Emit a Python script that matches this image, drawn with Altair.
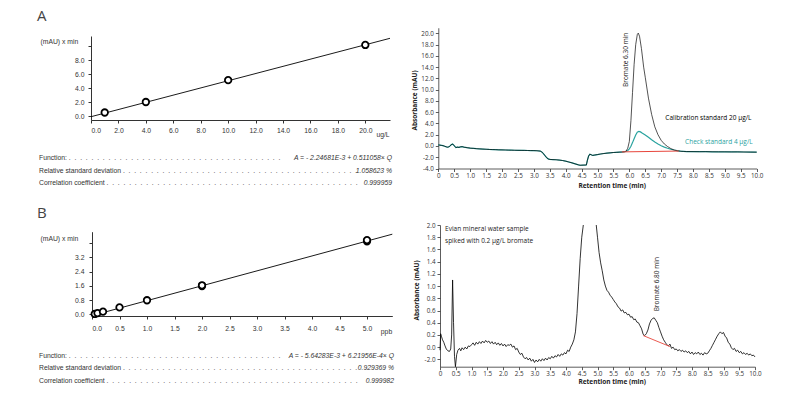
import altair as alt
import pandas as pd

# ====================== DATA ======================
# Panel A - calibration (area vs concentration, ug/L)
calA_conc = [1.0, 4.0, 10.0, 20.0]
calA_area = [0.50, 2.00, 5.12, 10.15]
calA_fit_conc = [0.0, 21.8]
calA_fit_area = [-0.10, 11.10]

# Panel B - calibration (area vs concentration, ppb)
calB_conc = [0.05, 0.1, 0.2, 0.5, 1.0, 2.0, 2.0, 5.0, 5.0]
calB_area = [0.02, 0.07, 0.15, 0.39, 0.79, 1.59, 1.63, 4.10, 4.17]
calB_fit_conc = [0.0, 5.46]
calB_fit_area = [-0.07, 4.50]

# Panel A - chromatogram, common baseline before the peak
chromA_pre_t = [0.00, 0.05, 0.10, 0.15, 0.20, 0.25, 0.30, 0.35, 0.40, 0.45,
                0.50, 0.55, 0.60, 0.65, 0.70, 0.75, 0.80,
                0.90, 1.00, 1.10, 1.20, 1.30, 1.40, 1.50, 1.60, 1.70, 1.80,
                1.90, 2.00, 2.10, 2.20, 2.30, 2.40, 2.50, 2.60, 2.70, 2.80,
                2.90, 3.00, 3.10, 3.20,
                3.25, 3.30, 3.35, 3.40, 3.45, 3.50,
                3.60, 3.70, 3.80, 3.90, 4.00, 4.10, 4.20, 4.30, 4.40,
                4.45, 4.55, 4.65, 4.68, 4.72, 4.76, 4.80, 4.85, 4.90,
                5.00, 5.10, 5.20, 5.30, 5.40, 5.50, 5.60, 5.70, 5.80, 5.85]
chromA_pre_v = [0.18, 0.15, 0.10, 0.05, -0.05, -0.15, -0.22, -0.10, 0.20, 0.35,
                0.05, -0.28, -0.20, -0.25, -0.15, -0.12, -0.20,
                -0.30, -0.38, -0.42, -0.48, -0.52, -0.55, -0.58, -0.62, -0.63, -0.66,
                -0.68, -0.70, -0.71, -0.73, -0.75, -0.76, -0.77, -0.78, -0.79, -0.80,
                -0.81, -0.82, -0.85, -0.90,
                -1.05, -1.35, -1.70, -2.05, -2.30, -2.38,
                -2.42, -2.45, -2.50, -2.58, -2.70, -2.85, -3.00, -3.18, -3.35,
                -3.42, -3.40, -3.38, -2.60, -1.80, -1.45, -1.55, -1.68, -1.62,
                -1.52, -1.42, -1.34, -1.27, -1.21, -1.16, -1.12, -1.09, -1.06, -1.03]
# calibration standard 20 ug/L peak
chromA_cal_t = [5.90, 5.95, 6.00, 6.05, 6.10, 6.15, 6.20, 6.25, 6.28, 6.32,
                6.38, 6.45, 6.50, 6.60, 6.70, 6.80, 6.90, 7.00, 7.10, 7.20,
                7.30, 7.40, 7.50, 7.60, 7.70]
chromA_cal_v = [-0.90, -0.40, 0.80, 4.50, 9.50, 14.50, 18.00, 19.80, 20.05, 19.50,
                17.30, 14.00, 12.20, 8.50, 5.60, 3.40, 2.00, 1.00, 0.35, -0.10,
                -0.45, -0.70, -0.85, -0.93, -0.97]
# check standard 4 ug/L peak
chromA_chk_t = [5.90, 5.95, 6.00, 6.05, 6.10, 6.15, 6.20, 6.25, 6.30, 6.35,
                6.40, 6.50, 6.60, 6.70, 6.80, 6.90, 7.00, 7.10, 7.20, 7.30,
                7.40, 7.50, 7.60, 7.70]
chromA_chk_v = [-0.95, -0.80, -0.50, -0.05, 0.60, 1.30, 1.95, 2.45, 2.60, 2.50,
                2.30, 1.95, 1.55, 1.10, 0.70, 0.35, 0.05, -0.20, -0.40, -0.58,
                -0.72, -0.82, -0.90, -0.95]
# common baseline after the peak
chromA_post_t = [7.80, 8.00, 8.20, 8.40, 8.60, 8.80, 9.00, 9.20, 9.40, 9.60, 9.80, 10.00]
chromA_post_v = [-0.99, -1.00, -1.02, -1.01, -1.03, -1.04, -1.04, -1.06, -1.05, -1.07, -1.08, -1.10]
# integration baseline
chromA_base_t = [5.77, 7.55]
chromA_base_v = [-1.05, -0.90]

# Panel B - chromatogram (two visible pieces; the big peak leaves the frame)
chromB_t1 = [0.00, 0.02, 0.05, 0.08, 0.12, 0.16, 0.20, 0.25, 0.30, 0.34,
             0.37, 0.40, 0.43, 0.46, 0.49, 0.53, 0.57, 0.62, 0.66, 0.70,
             0.75, 0.80, 0.85, 0.90, 0.95, 1.00, 1.05, 1.10, 1.15, 1.20,
             1.25, 1.30, 1.35, 1.40, 1.45, 1.50, 1.55, 1.60, 1.65, 1.70,
             1.75, 1.80, 1.85, 1.90, 1.95, 2.00, 2.05, 2.10, 2.15, 2.20,
             2.25, 2.30, 2.35, 2.40, 2.45, 2.50, 2.55, 2.60, 2.65, 2.70,
             2.75, 2.80, 2.85, 2.90, 2.95, 3.00, 3.05, 3.10, 3.15, 3.20,
             3.25, 3.30, 3.35, 3.40, 3.45, 3.50, 3.55, 3.60, 3.65, 3.70,
             3.75, 3.80, 3.85, 3.90, 3.95, 4.00, 4.05, 4.10, 4.15, 4.20,
             4.25, 4.30, 4.35, 4.40, 4.45, 4.50, 4.55]
chromB_v1 = [-0.05, 0.22, 0.17, 0.12, 0.08, 0.02, -0.03, -0.06, -0.07, -0.03,
             0.20, 1.10, 0.40, -0.15, -0.32, -0.12, -0.05, -0.02, -0.06, -0.01,
             -0.04, 0.00, -0.03, 0.02, 0.01, 0.04, 0.07, 0.03, 0.08, 0.05,
             0.09, 0.06, 0.10, 0.07, 0.11, 0.08, 0.10, 0.06, 0.09, 0.05,
             0.08, 0.04, 0.07, 0.03, 0.06, 0.02, 0.05, 0.01, 0.04, 0.03,
             0.05, 0.00, 0.02, -0.04, -0.02, -0.08, -0.12, -0.10, -0.16, -0.19,
             -0.17, -0.21, -0.18, -0.23, -0.20, -0.25, -0.21, -0.24, -0.20, -0.23,
             -0.19, -0.22, -0.18, -0.21, -0.17, -0.19, -0.15, -0.18, -0.14, -0.16,
             -0.12, -0.15, -0.11, -0.13, -0.09, -0.11, -0.05, -0.07, 0.00, 0.05,
             0.12, 0.25, 0.55, 1.00, 1.45, 1.80, 2.00]
chromB_t2 = [4.96,
             5.00, 5.05, 5.10, 5.15, 5.20, 5.25, 5.30, 5.35, 5.40, 5.45,
             5.50, 5.55, 5.60, 5.65, 5.70, 5.75, 5.80, 5.85, 5.90, 5.95,
             6.00, 6.05, 6.10, 6.15, 6.20, 6.25, 6.30, 6.35, 6.40, 6.45,
             6.50, 6.55, 6.60, 6.65, 6.70, 6.75, 6.80, 6.85, 6.90, 6.95,
             7.00, 7.05, 7.10, 7.15, 7.20, 7.25, 7.30, 7.35, 7.40, 7.45,
             7.50, 7.55, 7.60, 7.65, 7.70, 7.75, 7.80, 7.85, 7.90, 7.95,
             8.00, 8.05, 8.10, 8.15, 8.20, 8.25, 8.30, 8.35, 8.40, 8.45,
             8.50, 8.55, 8.60, 8.65, 8.70, 8.75, 8.80, 8.85, 8.90, 8.95,
             9.00, 9.05, 9.10, 9.15, 9.20, 9.25, 9.30, 9.35, 9.40, 9.45,
             9.50, 9.55, 9.60, 9.65, 9.70, 9.75, 9.80, 9.85, 9.90, 9.95,
             10.00]
chromB_v2 = [2.00,
             1.80, 1.55, 1.38, 1.25, 1.10, 1.00, 0.93, 0.90, 0.85, 0.82,
             0.78, 0.74, 0.71, 0.66, 0.64, 0.59, 0.61, 0.56, 0.57, 0.53,
             0.54, 0.49, 0.50, 0.45, 0.46, 0.41, 0.40, 0.35, 0.30, 0.21,
             0.19, 0.22, 0.28, 0.38, 0.44, 0.47, 0.48, 0.44, 0.40, 0.32,
             0.25, 0.18, 0.12, 0.08, 0.04, 0.02, 0.05, -0.02, 0.00, -0.04,
             -0.03, -0.06, -0.04, -0.07, -0.05, -0.08, -0.06, -0.09, -0.07, -0.11,
             -0.08, -0.12, -0.09, -0.11, -0.08, -0.12, -0.10, -0.13, -0.09, -0.11,
             -0.10, -0.06, -0.02, 0.03, 0.08, 0.13, 0.18, 0.22, 0.25, 0.22,
             0.24, 0.18, 0.15, 0.08, 0.05, -0.01, -0.04, -0.02, -0.07, -0.05,
             -0.09, -0.07, -0.11, -0.09, -0.12, -0.10, -0.13, -0.11, -0.14, -0.13,
             -0.16]
chromB_base_t = [6.45, 7.30]
chromB_base_v = [0.19, 0.01]

# Text
row_labels = ["Function:", "Relative standard deviation", "Correlation coefficient"]
rowA_values = ["A = - 2.24681E-3 + 0.511058× Q", "1.058623 %", "0.999959"]
rowB_values = ["A = - 5.64283E-3 + 6.21956E-4× Q", "0.929369 %", "0.999982"]

# ====================== STYLE / LAYOUT ======================
W, H = 800, 397
CAL_FONT = "Liberation Sans"
CHR_FONT = "Open Sans"
INK = "#222222"
GREY = "#333333"
TEAL = "#2aa39f"
RED = "#e8463c"
CAL_FS = 6.8


def cal_x(domain, rng, axis_y, values, title, title_x, title_y, pad):
    return alt.X("conc:Q",
                 scale=alt.Scale(domain=domain, range=rng, nice=False, zero=False),
                 axis=alt.Axis(orient="bottom", offset=axis_y - H, values=values, format=".1f",
                               title=title, titleX=title_x, titleY=title_y,
                               titleAlign="center", titleBaseline="middle",
                               titleFont=CAL_FONT, titleFontSize=CAL_FS, titleFontWeight="normal",
                               titleColor=GREY, labelFont=CAL_FONT, labelFontSize=CAL_FS,
                               labelColor=GREY, labelPadding=pad, tickSize=3, tickColor=GREY,
                               domainColor=GREY, grid=False, labelOverlap=False))


def cal_y(domain, rng, axis_x, values, hide_above, title_x, title_y, pad):
    return alt.Y("area:Q",
                 scale=alt.Scale(domain=domain, range=rng, nice=False, zero=False),
                 axis=alt.Axis(orient="left", offset=-axis_x, values=values,
                               labelExpr=f"datum.value > {hide_above} ? '' : format(datum.value, '.1f')",
                               title="(mAU) x min", titleAngle=0, titleX=title_x, titleY=title_y,
                               titleAlign="left", titleBaseline="middle",
                               titleFont=CAL_FONT, titleFontSize=CAL_FS, titleFontWeight="normal",
                               titleColor=GREY, labelFont=CAL_FONT, labelFontSize=CAL_FS,
                               labelColor=GREY, labelPadding=pad, tickSize=3, tickColor=GREY,
                               domainColor=GREY, grid=False))


def chr_x(rng, axis_y, title_y):
    return alt.X("t:Q",
                 scale=alt.Scale(domain=[0, 10], range=rng, nice=False, zero=False),
                 axis=alt.Axis(orient="bottom", offset=axis_y - H,
                               values=[i * 0.5 for i in range(21)],
                               labelExpr="datum.value == 0 ? '0' : format(datum.value, '.1f')",
                               labelFlush=False, labelOverlap=False,
                               title="Retention time (min)", titleX=611.7, titleY=title_y,
                               titleAlign="center", titleBaseline="middle",
                               titleFont=CHR_FONT, titleFontSize=6.5, titleFontWeight="bold",
                               titleColor=INK, labelFont=CHR_FONT, labelFontSize=6.3,
                               labelColor=GREY, labelPadding=1, tickSize=3, tickColor=GREY,
                               domainColor=GREY, domainWidth=0.8, tickWidth=0.8, grid=False))


def chr_y(domain, rng, axis_x, values, label_expr, title_x, title_y):
    return alt.Y("v:Q",
                 scale=alt.Scale(domain=domain, range=rng, nice=False, zero=False),
                 axis=alt.Axis(orient="left", offset=-axis_x, values=values, labelExpr=label_expr,
                               labelOverlap=False,
                               title="Absorbance (mAU)", titleAngle=270, titleX=title_x,
                               titleY=title_y, titleAlign="center", titleBaseline="middle",
                               titleFont=CHR_FONT, titleFontSize=6.5, titleFontWeight="bold",
                               titleColor=INK, labelFont=CHR_FONT, labelFontSize=6.3,
                               labelColor=GREY, labelPadding=2, tickSize=3, tickColor=GREY,
                               domainColor=GREY, domainWidth=0.8, tickWidth=0.8, grid=False))


def cal_panel(conc, area, fit_c, fit_a, xenc, yenc):
    pts = pd.DataFrame({"conc": conc, "area": area})
    fit = pd.DataFrame({"conc": fit_c, "area": fit_a})
    line = alt.Chart(fit).mark_line(color="black", strokeWidth=0.9).encode(x=xenc, y=yenc)
    dots = alt.Chart(pts).mark_point(shape="circle", filled=True, fill="white", stroke="black",
                                     strokeWidth=1.8, size=42, opacity=1).encode(x=xenc, y=yenc)
    return alt.layer(line, dots)


def label_px(txt, x, y, size, align="left", font=CAL_FONT, style="normal", color=GREY, weight="normal"):
    return alt.Chart(pd.DataFrame({"label": [txt]})).mark_text(
        align=align, baseline="middle", font=font, fontSize=size, fontStyle=style,
        color=color, fontWeight=weight).encode(x=alt.value(x), y=alt.value(y), text="label:N")


# ---------- Panel A calibration ----------
xA = cal_x([0, 21.8], [91, 390], 120, [float(v) for v in range(0, 21, 2)], "ug/L", 382.5, 14.3, 4)
yA = cal_y([-0.57, 11.43], [120, 36], 91, [0, 2, 4, 6, 8, 10], 9, -51, 41.5, 4)
panelA = cal_panel(calA_conc, calA_area, calA_fit_conc, calA_fit_area, xA, yA)

# ---------- Panel B calibration ----------
xB = cal_x([0, 5.46], [92, 392.3], 316, [i * 0.5 for i in range(11)], "ppb", 386, 15, 6.5)
yB = cal_y([-0.1, 4.64], [316.1, 231.7], 92, [0.0, 0.8, 1.6, 2.4, 3.2, 4.0], 3.5, -52, 238, 5)
panelB = cal_panel(calB_conc, calB_area, calB_fit_conc, calB_fit_area, xB, yB)

# ---------- Panel A chromatogram ----------
xAc = chr_x([438.3, 756.7], 168.5, 16.5)
yAc = chr_y([-4, 21], [168.5, 27.75], 438.3, [float(v) for v in range(-4, 21, 2)],
            "replace(format(datum.value, '.1f'), '\u2212', '-')", -24.3, 100)
dfA_cal = pd.DataFrame({"t": chromA_pre_t + chromA_cal_t + chromA_post_t,
                        "v": chromA_pre_v + chromA_cal_v + chromA_post_v})
dfA_chk = pd.DataFrame({"t": chromA_pre_t + chromA_chk_t + chromA_post_t,
                        "v": chromA_pre_v + chromA_chk_v + chromA_post_v})
dfA_base = pd.DataFrame({"t": chromA_base_t, "v": chromA_base_v})
chk_line = alt.Chart(dfA_chk).mark_line(color=TEAL, strokeWidth=1.2).encode(x=xAc, y=yAc)
cal_line = alt.Chart(dfA_cal).mark_line(color="black", strokeWidth=0.8, opacity=0.85).encode(x=xAc, y=yAc)
base_A = alt.Chart(dfA_base).mark_line(color=RED, strokeWidth=1).encode(x=xAc, y=yAc)
annA = pd.DataFrame({"t": [7.13, 7.75], "v": [4.97, 0.71],
                     "label": ["Calibration standard 20 µg/L", "Check standard 4 µg/L"],
                     "c": ["black", TEAL]})
annA_txt = alt.Chart(annA).mark_text(align="left", baseline="middle", font=CHR_FONT,
                                     fontSize=6.5).encode(x=xAc, y=yAc, text="label:N",
                                                          color=alt.Color("c:N", scale=None))
bromA = alt.Chart(pd.DataFrame({"t": [5.9], "v": [15.3], "label": ["Bromate 6.30 min"]})).mark_text(
    angle=270, align="center", baseline="middle", font=CHR_FONT, fontSize=6.5, color=INK
).encode(x=xAc, y=yAc, text="label:N")
panelAc = alt.layer(chk_line, cal_line, base_A, annA_txt, bromA)

# ---------- Panel B chromatogram ----------
xBc = chr_x([440, 755], 366.7, 15)
yBc = chr_y([-0.32, 2.0], [366.7, 225], 440, [round(-0.2 + 0.2 * i, 1) for i in range(12)],
            "datum.value < -0.1 ? '-2.0' : format(datum.value, '.1f')", -23.3, 290)
dfB = pd.DataFrame({"t": chromB_t1 + chromB_t2, "v": chromB_v1 + chromB_v2,
                    "seg": [1] * len(chromB_t1) + [2] * len(chromB_t2)})
dfB_base = pd.DataFrame({"t": chromB_base_t, "v": chromB_base_v})
trace_B = alt.Chart(dfB).mark_line(color="black", strokeWidth=0.8).encode(
    x=xBc, y=yBc, detail="seg:N")
base_B = alt.Chart(dfB_base).mark_line(color=RED, strokeWidth=0.9).encode(x=xBc, y=yBc)
annB = pd.DataFrame({"t": [0.16, 0.16], "v": [1.93, 1.74],
                     "label": ["Evian mineral water sample", "spiked with 0.2 µg/L bromate"]})
annB_txt = alt.Chart(annB).mark_text(align="left", baseline="middle", font=CHR_FONT,
                                     fontSize=6.5, color=INK).encode(x=xBc, y=yBc, text="label:N")
bromB = alt.Chart(pd.DataFrame({"t": [6.88], "v": [1.03], "label": ["Bromate 6.80  min"]})).mark_text(
    angle=270, align="center", baseline="middle", font=CHR_FONT, fontSize=6.5, color=INK
).encode(x=xBc, y=yBc, text="label:N")
panelBc = alt.layer(trace_B, base_B, annB_txt, bromB)

# ---------- free text ----------
texts = [label_px("A", 37, 15.5, 15, font=CHR_FONT, color="#444"),
         label_px("B", 37, 212.5, 15, font=CHR_FONT, color="#444")]
NB = "\u00a0"
dot_counts = [38, 42, 45]
rowA_y = [158.3, 170.8, 183.3]
rowB_y = [355.5, 368.0, 380.5]
for lab, val, yy, n in zip(row_labels, rowA_values, rowA_y, dot_counts):
    texts.append(label_px(lab + NB + (("." + NB * 2) * n), 39, yy, CAL_FS))
    texts.append(label_px(val, 392, yy, CAL_FS, align="right", style="italic"))
for lab, val, yy, n in zip(row_labels, rowB_values, rowB_y, dot_counts):
    texts.append(label_px(lab + NB + (("." + NB * 2) * n), 39, yy, CAL_FS))
    texts.append(label_px(val, 394, yy, CAL_FS, align="right", style="italic"))

chart = alt.layer(panelA, panelB, panelAc, panelBc, *texts).resolve_scale(
    x="independent", y="independent"
).properties(
    width=W, height=H, autosize=alt.AutoSizeParams(type="none"), padding=0,
    background="white"
).configure_view(strokeWidth=0)

chart.save("out.html", embed_options={"renderer": "svg", "actions": False})
